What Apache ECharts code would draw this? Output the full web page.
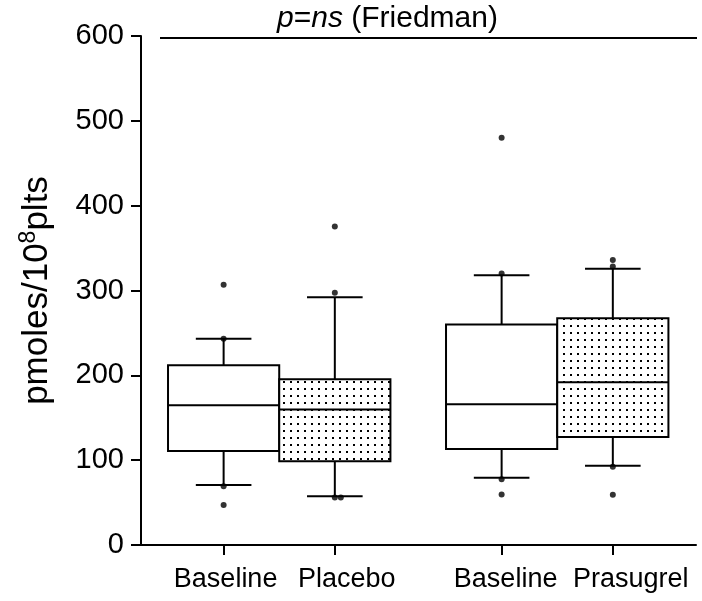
<!DOCTYPE html>
<html>
<head>
<meta charset="utf-8">
<script src="https://cdn.jsdelivr.net/npm/echarts@6/dist/echarts.min.js"></script>
<style>
html,body{margin:0;padding:0;background:#fff;}
#chart{width:702px;height:601px;}
</style>
</head>
<body>
<div id="chart"></div>
<script>
// ---- data ----
var categories   = ['Baseline', 'Placebo', 'Baseline', 'Prasugrel'];
var xPositions   = [1, 2, 3.5, 4.5];
var whiskerLow   = [70.6, 57.6, 79.2, 93.3];
var quartile1    = [110.9, 98.8, 113.3, 127.4];
var medians      = [164.7, 159.6, 166.0, 191.8];
var quartile3    = [211.8, 195.3, 260.0, 267.4];
var whiskerHigh  = [243.2, 292.1, 318.0, 325.5];
var pointsBaselinePlacebo  = [306.7, 243.2, 69.4, 47.1];
var pointsPlacebo          = [375.3, 297.3, 56.1, 56.1];
var pointsBaselinePrasug   = [480.0, 320.0, 77.6, 59.6];
var pointsPrasugrel        = [336.1, 328.2, 92.1, 59.2];
var yTicks = [0, 100, 200, 300, 400, 500, 600];

// ---- styling ----
var FONT = "'Liberation Sans', Arial, Helvetica, sans-serif";
var dotted = [false, true, false, true];
var labelShift = [2, 12, 4, 18];

var tile = document.createElement('canvas');
tile.width = 7; tile.height = 7;
var tctx = tile.getContext('2d');
tctx.fillStyle = '#fff'; tctx.fillRect(0, 0, 7, 7);
tctx.fillStyle = '#000'; tctx.fillRect(3, 3, 2, 2);
var dotPattern = { image: tile, repeat: 'repeat' };

var boxData = categories.map(function (c, i) {
  return [xPositions[i], whiskerLow[i], quartile1[i], medians[i], quartile3[i], whiskerHigh[i], i];
});

var allPoints = [pointsBaselinePlacebo, pointsPlacebo, pointsBaselinePrasug, pointsPrasugrel];
var scatterData = [];
allPoints.forEach(function (arr, i) {
  var seen = {};
  arr.forEach(function (v) {
    var k = String(v);
    var n = seen[k] || 0;
    seen[k] = n + 1;
    scatterData.push({ value: [xPositions[i], v], symbolOffset: [n * 6, 0] });
  });
});

var chart = echarts.init(document.getElementById('chart'), null, { renderer: 'canvas' });

var option = {
  animation: false,
  backgroundColor: '#fff',
  textStyle: { fontFamily: FONT, color: '#000' },
  title: {
    text: '{i|p}{n|=}{i|ns}{n| (Friedman)}',
    left: 272,
    top: -1,
    textStyle: {
      fontWeight: 'normal',
      rich: {
        i: { fontFamily: FONT, fontSize: 30, fontStyle: 'italic', fontWeight: 'normal', color: '#000' },
        n: { fontFamily: FONT, fontSize: 30, fontWeight: 'normal', color: '#000' }
      }
    }
  },
  graphic: [{
    type: 'line',
    shape: { x1: 160, y1: 38, x2: 697, y2: 38 },
    style: { stroke: '#000', lineWidth: 2 }
  }],
  grid: { left: 141, right: 6, top: 36, bottom: 56 },
  xAxis: {
    type: 'value',
    min: 0.257,
    max: 5.248,
    splitLine: { show: false },
    axisLine: { show: true, lineStyle: { color: '#000', width: 2 } },
    axisTick: { show: true, customValues: xPositions, length: 10, lineStyle: { color: '#000', width: 2 } },
    axisLabel: {
      show: true,
      customValues: xPositions,
      margin: 21,
      formatter: function (v) {
        var idx = xPositions.indexOf(v);
        if (idx < 0) return '';
        return '{l' + idx + '|' + categories[idx] + '}';
      },
      rich: (function () {
        var r = {};
        labelShift.forEach(function (s, i) {
          r['l' + i] = { fontFamily: FONT, fontSize: 27, color: '#000', padding: [0, 0, 0, 2 * s] };
        });
        return r;
      })()
    }
  },
  yAxis: {
    type: 'value',
    min: yTicks[0],
    max: yTicks[yTicks.length - 1],
    interval: yTicks[1] - yTicks[0],
    splitLine: { show: false },
    axisLine: { show: true, lineStyle: { color: '#000', width: 2 } },
    axisTick: { show: true, length: 10, lineStyle: { color: '#000', width: 2 } },
    axisLabel: { fontFamily: FONT, fontSize: 29, color: '#000', margin: 17 },
    name: '{a|pmoles/10}{s|8}{a|plts}',
    nameLocation: 'middle',
    nameGap: 84,
    nameRotate: 90,
    nameTextStyle: {
      rich: {
        a: { fontFamily: FONT, fontSize: 35, color: '#000', lineHeight: 40 },
        s: { fontFamily: FONT, fontSize: 23, color: '#000', lineHeight: 23, verticalAlign: 'top' }
      }
    }
  },
  series: [
    {
      type: 'custom',
      data: boxData,
      encode: { x: 0, y: [1, 2, 3, 4, 5] },
      renderItem: function (params, api) {
        var x = api.value(0);
        var idx = api.value(6);
        var lo = api.coord([x, api.value(1)]);
        var q1 = api.coord([x, api.value(2)]);
        var md = api.coord([x, api.value(3)]);
        var q3 = api.coord([x, api.value(4)]);
        var hi = api.coord([x, api.value(5)]);
        var w = api.size([1, 0])[0];
        var half = w / 2, cap = w / 4;
        var cx = lo[0];
        var ls = { stroke: '#000', lineWidth: 2 };
        return {
          type: 'group',
          children: [
            { type: 'line', shape: { x1: cx, y1: q3[1], x2: cx, y2: hi[1] }, style: ls },
            { type: 'line', shape: { x1: cx - cap, y1: hi[1], x2: cx + cap, y2: hi[1] }, style: ls },
            { type: 'line', shape: { x1: cx, y1: q1[1], x2: cx, y2: lo[1] }, style: ls },
            { type: 'line', shape: { x1: cx - cap, y1: lo[1], x2: cx + cap, y2: lo[1] }, style: ls },
            { type: 'rect', shape: { x: cx - half, y: q3[1], width: w, height: q1[1] - q3[1] },
              style: { fill: dotted[idx] ? dotPattern : '#fff', stroke: '#000', lineWidth: 2 } },
            { type: 'line', shape: { x1: cx - half, y1: md[1], x2: cx + half, y2: md[1] }, style: ls }
          ]
        };
      },
      z: 2
    },
    {
      type: 'scatter',
      data: scatterData,
      symbol: 'circle',
      symbolSize: 6,
      itemStyle: { color: '#000' },
      z: 3
    }
  ]
};
chart.setOption(option);
</script>
</body>
</html>
